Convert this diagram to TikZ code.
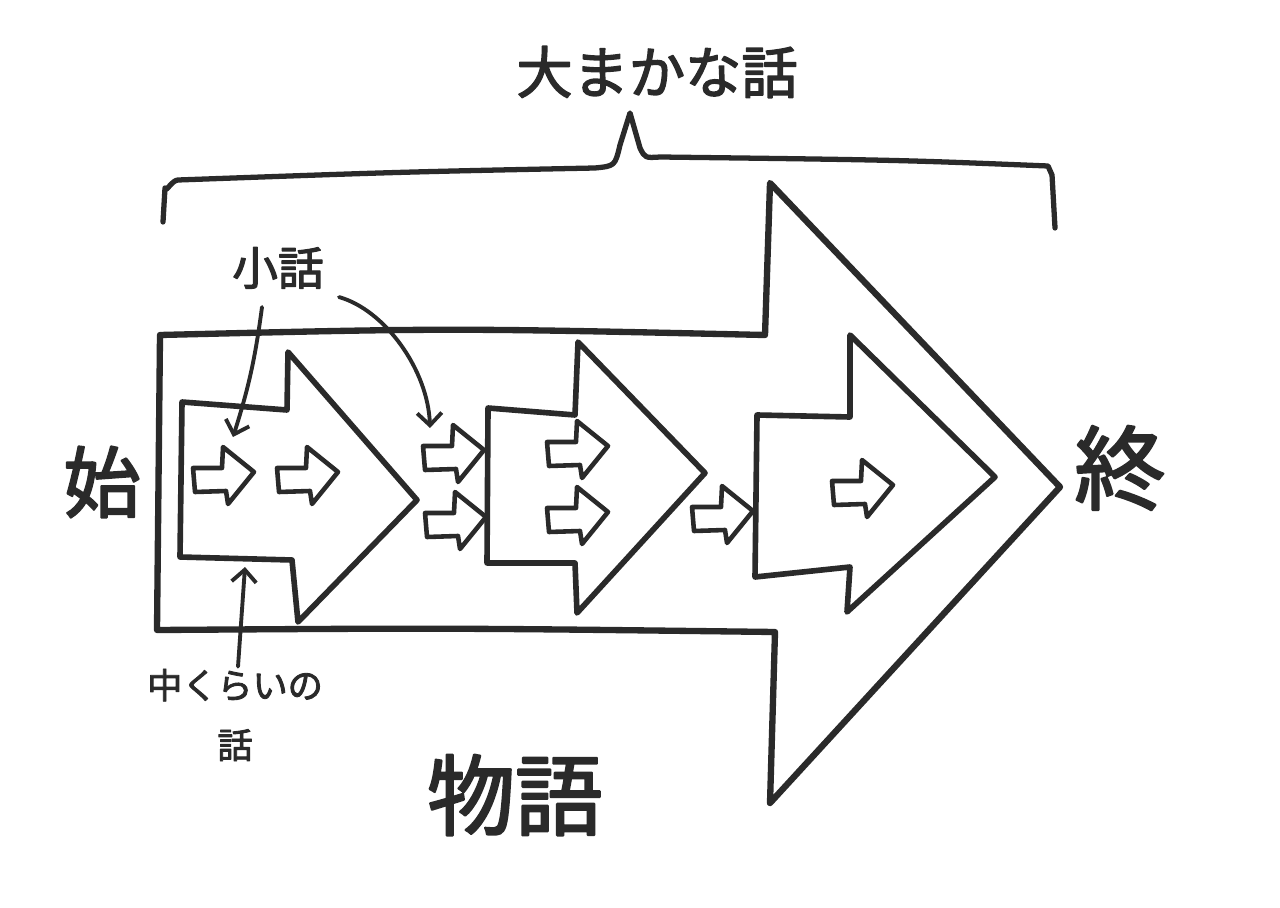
\documentclass[tikz,border=0pt]{standalone}
\usepackage{fontspec}
\setmainfont{Noto Sans CJK JP}[FakeBold=2.5]
\usetikzlibrary{arrows.meta}
\definecolor{skink}{HTML}{2A2A2A}

\begin{document}
\begin{tikzpicture}[x=0.02cm,y=-0.02cm,line join=round,line cap=round,
  bigarrow/.style={draw=skink,line width=3.6pt},
  midarrow/.style={draw=skink,line width=3.2pt},
  smallarrow/.style={draw=skink,line width=2.6pt},
  bracket/.style={draw=skink,line width=3pt},
  note/.style={draw=skink,line width=2.2pt,-{Straight Barb[length=7pt,width=14pt]}},
  hand/.style={text=skink,inner sep=0pt}]
  \path[fill=white] (0,0) rectangle (1280,908);
  \draw[bracket] (163,222) -- (165,188) to[out=-90,in=180] (178,180)
    .. controls (400,172) .. (595,168) .. controls (615,166) .. (620,145) -- (630,113)
    -- (640,148) .. controls (645,158) .. (660,157) .. controls (900,160) .. (1048,166)
    -- (1052,175) -- (1055,228);
  \draw[bigarrow] (160,335) .. controls (450,328) .. (765,335) -- (770,183) -- (1060,487)
    -- (770,803) -- (775,632) .. controls (450,628) .. (157,630) -- cycle;
  \draw[midarrow] (182,402) -- (287,410) -- (288,352) -- (417,500) -- (298,622)
    -- (292,560) -- (180,557) -- cycle;
  \draw[midarrow] (488,408) -- (575,415) -- (578,342) -- (705,473) -- (577,613)
    -- (575,563) -- (487,563) -- cycle;
  \draw[midarrow] (757,415) -- (850,417) -- (850,335) -- (995,477) -- (847,612)
    -- (850,567) -- (755,577) -- cycle;
  \foreach \x/\y in {193/468,277/468,423/446,425/513,547/442,547/508,692/507,832/481}{
    \draw[smallarrow,shift={(\x,\y)}] (0,0) -- (29,0) -- (30,-21) -- (61,4) -- (35,36)
      -- (33,23) -- (2,24) -- cycle;}
  \node[hand,font=\fontsize{32}{38}\selectfont] (title) at (657,72) {大まかな話};
  \node[hand,font=\fontsize{26}{30}\selectfont] (kobanashi) at (278,268) {小話};
  \node[hand,font=\fontsize{20}{34}\selectfont,align=center] (chu) at (235,715) {中くらいの\\話};
  \node[hand,font=\fontsize{44}{48}\selectfont] (hajime) at (102,482) {始};
  \node[hand,font=\fontsize{52}{56}\selectfont] (owari) at (1120,468) {終};
  \node[hand,font=\fontsize{50}{54}\selectfont] (monogatari) at (515,795) {物語};
  \coordinate (small-a) at (233,437);
  \coordinate (small-c) at (430,428);
  \coordinate (mid-a) at (245,567);
  \draw[note] ([shift={(-16,18)}]kobanashi.south) to[bend left=5] (small-a);
  \draw[note] ([shift={(15,8)}]kobanashi.south east) .. controls (385,310) and (428,370) .. (small-c);
  \draw[note] ([shift={(3,-2)}]chu.north) -- (mid-a);
\end{tikzpicture}
\end{document}
